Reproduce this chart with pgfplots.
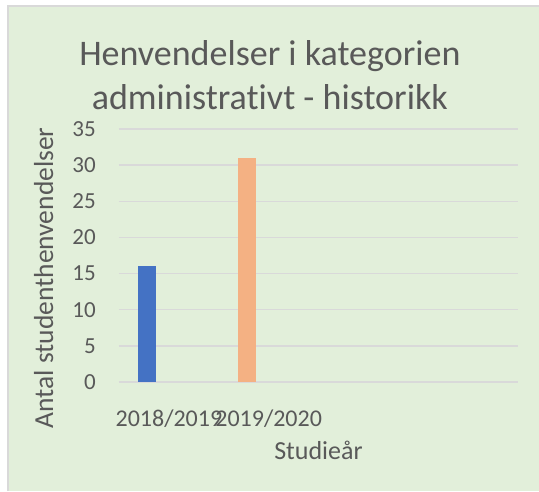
\documentclass[border=0pt]{standalone}
\usepackage{pgfplots}
\pgfplotsset{compat=1.18}
\usepackage{fontspec}
\setmainfont{Carlito}[Ligatures=NoCommon]
\definecolor{bgc}{HTML}{E2EFDA}
\definecolor{txt}{HTML}{595959}
\definecolor{gridc}{HTML}{D9D9D9}
\definecolor{blueb}{HTML}{4472C4}
\definecolor{orangeb}{HTML}{F4B183}
\begin{document}
\begin{tikzpicture}
\useasboundingbox (0,0) rectangle (539pt,-491pt);
\fill[bgc] (8pt,-6pt) rectangle (539pt,-491pt);
\draw[gridc, line width=2pt] (8pt,-491pt) -- (8pt,-6pt) -- (539pt,-6pt);
\begin{axis}[
    at={(119pt,-382pt)}, anchor=south west,
    scale only axis, width=399pt, height=253pt,
    ybar, bar width=18pt,
    xmin=0, xmax=4, ymin=0, ymax=35,
    ytick={0,5,...,35},
    xtick={0.5,1.5},
    xticklabels={2018/2019,2019/2020},
    axis line style={draw=none}, tick style={draw=none},
    ymajorgrids, major grid style={draw=gridc, line width=1.5pt},
    /pgf/number format/assume math mode=true,
    yticklabel style={font=\fontsize{23}{27}\selectfont, text=txt, anchor=east, inner sep=0pt, xshift=-23pt},
    xticklabel style={font=\fontsize{24}{28}\selectfont, text=txt, anchor=base, inner sep=0pt, yshift=-40pt},
    title={Henvendelser i kategorien\\administrativt - historikk},
    title style={at={(axis description cs:0.378,1.055)}, anchor=base, inner sep=0pt, align=center,
        font=\fontsize{36}{44}\selectfont, text=txt},
    ylabel={Antal studenthenvendelser},
    ylabel style={at={(axis description cs:-0.165,0.411)}, anchor=base, inner sep=0pt,
        font=\fontsize{27.5}{32}\selectfont, text=txt},
    xlabel={Studieår},
    xlabel style={at={(axis description cs:0.5,-0.308)}, anchor=base, inner sep=0pt,
        font=\fontsize{26}{30}\selectfont, text=txt},
]
\addplot[fill=blueb, draw=none, bar shift=0pt] coordinates {(0.28,16)};
\addplot[fill=orangeb, draw=none, bar shift=0pt] coordinates {(1.28,31)};
\end{axis}
\end{tikzpicture}
\end{document}
